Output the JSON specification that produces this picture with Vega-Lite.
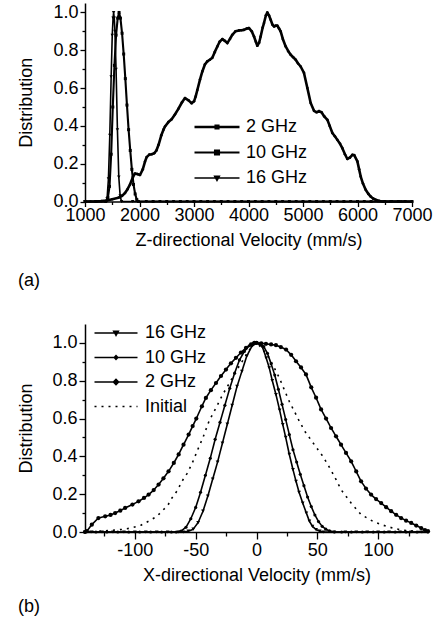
{
"$schema":"https://vega.github.io/schema/vega-lite/v6.json",
"background":"white",
"padding":{"left":17,"top":3,"right":0,"bottom":0},
"spacing":34,
"resolve":{"scale":{"color":"independent","strokeWidth":"independent","strokeDash":"independent"},"legend":{"color":"independent"}},
"config":{
 "view":{"stroke":null},
 "font":"Liberation Sans",
 "axis":{"domainColor":"black","domainWidth":1.5,"tickColor":"black","tickWidth":1.3,"labelColor":"black","titleColor":"black","labelFont":"Liberation Sans","titleFont":"Liberation Sans","labelFontSize":18,"titleFontSize":18,"titleFontWeight":"normal","grid":false,"labelFlush":false,"labelOverlap":false},
 "legend":{"labelFont":"Liberation Sans","labelFontSize":18,"labelColor":"black","padding":0,"labelLimit":300,"title":null},
 "title":{"font":"Liberation Sans","fontSize":18,"fontWeight":"normal","color":"black","orient":"bottom","anchor":"start","frame":"bounds"}
},
"datasets":{
"za":[
{"s":"2 GHz","v":1000,"d":0},{"s":"2 GHz","v":1100,"d":0},{"s":"2 GHz","v":1200,"d":0},{"s":"2 GHz","v":1300,"d":0.002},{"s":"2 GHz","v":1400,"d":0.005},{"s":"2 GHz","v":1500,"d":0.012},{"s":"2 GHz","v":1612,"d":0.02},{"s":"2 GHz","v":1680,"d":0.03},{"s":"2 GHz","v":1734,"d":0.045},{"s":"2 GHz","v":1780,"d":0.065},{"s":"2 GHz","v":1826,"d":0.09},{"s":"2 GHz","v":1880,"d":0.13},{"s":"2 GHz","v":1918,"d":0.148},{"s":"2 GHz","v":1960,"d":0.145},{"s":"2 GHz","v":2009,"d":0.14},{"s":"2 GHz","v":2060,"d":0.17},{"s":"2 GHz","v":2100,"d":0.21},{"s":"2 GHz","v":2132,"d":0.235},{"s":"2 GHz","v":2180,"d":0.248},{"s":"2 GHz","v":2223,"d":0.25},{"s":"2 GHz","v":2270,"d":0.255},{"s":"2 GHz","v":2310,"d":0.27},{"s":"2 GHz","v":2350,"d":0.3},{"s":"2 GHz","v":2400,"d":0.35},{"s":"2 GHz","v":2440,"d":0.38},{"s":"2 GHz","v":2468,"d":0.397},{"s":"2 GHz","v":2530,"d":0.42},{"s":"2 GHz","v":2590,"d":0.435},{"s":"2 GHz","v":2650,"d":0.46},{"s":"2 GHz","v":2713,"d":0.49},{"s":"2 GHz","v":2780,"d":0.525},{"s":"2 GHz","v":2835,"d":0.547},{"s":"2 GHz","v":2900,"d":0.535},{"s":"2 GHz","v":2957,"d":0.52},{"s":"2 GHz","v":3000,"d":0.53},{"s":"2 GHz","v":3030,"d":0.555},{"s":"2 GHz","v":3061,"d":0.59},{"s":"2 GHz","v":3110,"d":0.645},{"s":"2 GHz","v":3153,"d":0.688},{"s":"2 GHz","v":3200,"d":0.725},{"s":"2 GHz","v":3244,"d":0.741},{"s":"2 GHz","v":3290,"d":0.75},{"s":"2 GHz","v":3336,"d":0.76},{"s":"2 GHz","v":3380,"d":0.79},{"s":"2 GHz","v":3428,"d":0.82},{"s":"2 GHz","v":3470,"d":0.845},{"s":"2 GHz","v":3520,"d":0.859},{"s":"2 GHz","v":3565,"d":0.85},{"s":"2 GHz","v":3611,"d":0.838},{"s":"2 GHz","v":3660,"d":0.86},{"s":"2 GHz","v":3703,"d":0.882},{"s":"2 GHz","v":3760,"d":0.9},{"s":"2 GHz","v":3826,"d":0.905},{"s":"2 GHz","v":3870,"d":0.906},{"s":"2 GHz","v":3917,"d":0.908},{"s":"2 GHz","v":3970,"d":0.915},{"s":"2 GHz","v":4009,"d":0.917},{"s":"2 GHz","v":4060,"d":0.9},{"s":"2 GHz","v":4101,"d":0.873},{"s":"2 GHz","v":4135,"d":0.845},{"s":"2 GHz","v":4162,"d":0.824},{"s":"2 GHz","v":4195,"d":0.84},{"s":"2 GHz","v":4223,"d":0.873},{"s":"2 GHz","v":4260,"d":0.92},{"s":"2 GHz","v":4284,"d":0.944},{"s":"2 GHz","v":4320,"d":0.985},{"s":"2 GHz","v":4345,"d":1.0},{"s":"2 GHz","v":4375,"d":0.985},{"s":"2 GHz","v":4407,"d":0.961},{"s":"2 GHz","v":4440,"d":0.935},{"s":"2 GHz","v":4468,"d":0.926},{"s":"2 GHz","v":4500,"d":0.93},{"s":"2 GHz","v":4529,"d":0.93},{"s":"2 GHz","v":4560,"d":0.915},{"s":"2 GHz","v":4590,"d":0.9},{"s":"2 GHz","v":4630,"d":0.86},{"s":"2 GHz","v":4682,"d":0.82},{"s":"2 GHz","v":4730,"d":0.795},{"s":"2 GHz","v":4774,"d":0.776},{"s":"2 GHz","v":4820,"d":0.763},{"s":"2 GHz","v":4866,"d":0.75},{"s":"2 GHz","v":4910,"d":0.73},{"s":"2 GHz","v":4957,"d":0.714},{"s":"2 GHz","v":5018,"d":0.68},{"s":"2 GHz","v":5080,"d":0.6},{"s":"2 GHz","v":5141,"d":0.521},{"s":"2 GHz","v":5202,"d":0.48},{"s":"2 GHz","v":5250,"d":0.472},{"s":"2 GHz","v":5294,"d":0.478},{"s":"2 GHz","v":5340,"d":0.472},{"s":"2 GHz","v":5390,"d":0.45},{"s":"2 GHz","v":5447,"d":0.432},{"s":"2 GHz","v":5490,"d":0.4},{"s":"2 GHz","v":5539,"d":0.362},{"s":"2 GHz","v":5585,"d":0.345},{"s":"2 GHz","v":5630,"d":0.326},{"s":"2 GHz","v":5680,"d":0.305},{"s":"2 GHz","v":5722,"d":0.282},{"s":"2 GHz","v":5770,"d":0.25},{"s":"2 GHz","v":5814,"d":0.225},{"s":"2 GHz","v":5860,"d":0.232},{"s":"2 GHz","v":5906,"d":0.247},{"s":"2 GHz","v":5940,"d":0.245},{"s":"2 GHz","v":5998,"d":0.212},{"s":"2 GHz","v":6030,"d":0.17},{"s":"2 GHz","v":6059,"d":0.132},{"s":"2 GHz","v":6100,"d":0.095},{"s":"2 GHz","v":6150,"d":0.062},{"s":"2 GHz","v":6200,"d":0.04},{"s":"2 GHz","v":6242,"d":0.026},{"s":"2 GHz","v":6290,"d":0.015},{"s":"2 GHz","v":6334,"d":0.009},{"s":"2 GHz","v":6400,"d":0.003},{"s":"2 GHz","v":6456,"d":0},{"s":"2 GHz","v":6600,"d":0},{"s":"2 GHz","v":6800,"d":0},{"s":"2 GHz","v":7000,"d":0},
{"s":"10 GHz","v":1000,"d":0},{"s":"10 GHz","v":1200,"d":0},{"s":"10 GHz","v":1380,"d":0},{"s":"10 GHz","v":1420,"d":0.02},{"s":"10 GHz","v":1450,"d":0.08},{"s":"10 GHz","v":1480,"d":0.25},{"s":"10 GHz","v":1510,"d":0.5},{"s":"10 GHz","v":1540,"d":0.72},{"s":"10 GHz","v":1570,"d":0.88},{"s":"10 GHz","v":1600,"d":0.97},{"s":"10 GHz","v":1625,"d":1.0},{"s":"10 GHz","v":1650,"d":0.97},{"s":"10 GHz","v":1680,"d":0.89},{"s":"10 GHz","v":1710,"d":0.78},{"s":"10 GHz","v":1740,"d":0.65},{"s":"10 GHz","v":1770,"d":0.51},{"s":"10 GHz","v":1800,"d":0.38},{"s":"10 GHz","v":1830,"d":0.27},{"s":"10 GHz","v":1860,"d":0.17},{"s":"10 GHz","v":1890,"d":0.09},{"s":"10 GHz","v":1920,"d":0.04},{"s":"10 GHz","v":1950,"d":0.01},{"s":"10 GHz","v":1980,"d":0},{"s":"10 GHz","v":2250,"d":0},{"s":"10 GHz","v":2500,"d":0},{"s":"10 GHz","v":2750,"d":0},{"s":"10 GHz","v":3000,"d":0},{"s":"10 GHz","v":3250,"d":0},{"s":"10 GHz","v":3500,"d":0},{"s":"10 GHz","v":3750,"d":0},{"s":"10 GHz","v":4000,"d":0},{"s":"10 GHz","v":4250,"d":0},{"s":"10 GHz","v":4500,"d":0},{"s":"10 GHz","v":4750,"d":0},{"s":"10 GHz","v":5000,"d":0},{"s":"10 GHz","v":5250,"d":0},{"s":"10 GHz","v":5500,"d":0},{"s":"10 GHz","v":5750,"d":0},{"s":"10 GHz","v":6000,"d":0},{"s":"10 GHz","v":6250,"d":0},{"s":"10 GHz","v":6500,"d":0},{"s":"10 GHz","v":6750,"d":0},{"s":"10 GHz","v":7000,"d":0},
{"s":"16 GHz","v":1000,"d":0},{"s":"16 GHz","v":1200,"d":0},{"s":"16 GHz","v":1380,"d":0},{"s":"16 GHz","v":1405,"d":0.015},{"s":"16 GHz","v":1430,"d":0.12},{"s":"16 GHz","v":1455,"d":0.35},{"s":"16 GHz","v":1480,"d":0.66},{"s":"16 GHz","v":1500,"d":0.88},{"s":"16 GHz","v":1515,"d":0.97},{"s":"16 GHz","v":1525,"d":1.0},{"s":"16 GHz","v":1537,"d":0.97},{"s":"16 GHz","v":1550,"d":0.9},{"s":"16 GHz","v":1570,"d":0.7},{"s":"16 GHz","v":1595,"d":0.38},{"s":"16 GHz","v":1620,"d":0.13},{"s":"16 GHz","v":1645,"d":0.03},{"s":"16 GHz","v":1670,"d":0},{"s":"16 GHz","v":1875,"d":0},{"s":"16 GHz","v":2125,"d":0},{"s":"16 GHz","v":2375,"d":0},{"s":"16 GHz","v":2625,"d":0},{"s":"16 GHz","v":2875,"d":0},{"s":"16 GHz","v":3125,"d":0},{"s":"16 GHz","v":3375,"d":0},{"s":"16 GHz","v":3625,"d":0},{"s":"16 GHz","v":3875,"d":0},{"s":"16 GHz","v":4125,"d":0},{"s":"16 GHz","v":4375,"d":0},{"s":"16 GHz","v":4625,"d":0},{"s":"16 GHz","v":4875,"d":0},{"s":"16 GHz","v":5125,"d":0},{"s":"16 GHz","v":5375,"d":0},{"s":"16 GHz","v":5625,"d":0},{"s":"16 GHz","v":5875,"d":0},{"s":"16 GHz","v":6125,"d":0},{"s":"16 GHz","v":6375,"d":0},{"s":"16 GHz","v":6625,"d":0},{"s":"16 GHz","v":6875,"d":0}
],
"xb":[
{"s":"2 GHz","v":-141,"d":0},{"s":"2 GHz","v":-139.5,"d":0.004},{"s":"2 GHz","v":-135.4,"d":0.039},{"s":"2 GHz","v":-130,"d":0.074},{"s":"2 GHz","v":-124.4,"d":0.083},{"s":"2 GHz","v":-120,"d":0.09},{"s":"2 GHz","v":-116.2,"d":0.1},{"s":"2 GHz","v":-112,"d":0.113},{"s":"2 GHz","v":-108,"d":0.127},{"s":"2 GHz","v":-102,"d":0.145},{"s":"2 GHz","v":-97,"d":0.162},{"s":"2 GHz","v":-92.5,"d":0.18},{"s":"2 GHz","v":-88.7,"d":0.198},{"s":"2 GHz","v":-84.5,"d":0.222},{"s":"2 GHz","v":-80.5,"d":0.251},{"s":"2 GHz","v":-76.5,"d":0.284},{"s":"2 GHz","v":-72.3,"d":0.321},{"s":"2 GHz","v":-68,"d":0.365},{"s":"2 GHz","v":-64,"d":0.41},{"s":"2 GHz","v":-60,"d":0.462},{"s":"2 GHz","v":-55.8,"d":0.515},{"s":"2 GHz","v":-52.5,"d":0.56},{"s":"2 GHz","v":-49.5,"d":0.6},{"s":"2 GHz","v":-44.9,"d":0.665},{"s":"2 GHz","v":-41.6,"d":0.709},{"s":"2 GHz","v":-37.5,"d":0.75},{"s":"2 GHz","v":-33.3,"d":0.788},{"s":"2 GHz","v":-29.2,"d":0.825},{"s":"2 GHz","v":-25.1,"d":0.859},{"s":"2 GHz","v":-21,"d":0.892},{"s":"2 GHz","v":-16.9,"d":0.921},{"s":"2 GHz","v":-12.8,"d":0.949},{"s":"2 GHz","v":-8.6,"d":0.974},{"s":"2 GHz","v":-4.5,"d":0.992},{"s":"2 GHz","v":-1.8,"d":1.0},{"s":"2 GHz","v":0,"d":1.0},{"s":"2 GHz","v":3.9,"d":0.998},{"s":"2 GHz","v":7.8,"d":0.995},{"s":"2 GHz","v":12,"d":0.992},{"s":"2 GHz","v":16,"d":0.988},{"s":"2 GHz","v":20,"d":0.978},{"s":"2 GHz","v":24.3,"d":0.965},{"s":"2 GHz","v":28.5,"d":0.937},{"s":"2 GHz","v":32.5,"d":0.903},{"s":"2 GHz","v":36.6,"d":0.87},{"s":"2 GHz","v":40.7,"d":0.833},{"s":"2 GHz","v":45,"d":0.765},{"s":"2 GHz","v":49,"d":0.71},{"s":"2 GHz","v":53.1,"d":0.648},{"s":"2 GHz","v":57.2,"d":0.6},{"s":"2 GHz","v":61.3,"d":0.55},{"s":"2 GHz","v":65.4,"d":0.506},{"s":"2 GHz","v":69.5,"d":0.462},{"s":"2 GHz","v":73.6,"d":0.418},{"s":"2 GHz","v":77.8,"d":0.374},{"s":"2 GHz","v":82,"d":0.32},{"s":"2 GHz","v":86,"d":0.268},{"s":"2 GHz","v":90,"d":0.23},{"s":"2 GHz","v":94.2,"d":0.198},{"s":"2 GHz","v":98.3,"d":0.174},{"s":"2 GHz","v":102.5,"d":0.153},{"s":"2 GHz","v":106.6,"d":0.131},{"s":"2 GHz","v":110.7,"d":0.11},{"s":"2 GHz","v":114.8,"d":0.091},{"s":"2 GHz","v":118.9,"d":0.074},{"s":"2 GHz","v":123,"d":0.06},{"s":"2 GHz","v":127.2,"d":0.048},{"s":"2 GHz","v":131.3,"d":0.034},{"s":"2 GHz","v":135.4,"d":0.021},{"s":"2 GHz","v":138.5,"d":0.01},{"s":"2 GHz","v":141,"d":0.004},
{"s":"Initial","v":-141,"d":0},{"s":"Initial","v":-130,"d":0.004},{"s":"Initial","v":-120,"d":0.008},{"s":"Initial","v":-110,"d":0.014},{"s":"Initial","v":-102.5,"d":0.022},{"s":"Initial","v":-95,"d":0.036},{"s":"Initial","v":-88.7,"d":0.057},{"s":"Initial","v":-82,"d":0.082},{"s":"Initial","v":-77.8,"d":0.11},{"s":"Initial","v":-73,"d":0.14},{"s":"Initial","v":-69.5,"d":0.18},{"s":"Initial","v":-65,"d":0.22},{"s":"Initial","v":-61.3,"d":0.268},{"s":"Initial","v":-57,"d":0.31},{"s":"Initial","v":-53.1,"d":0.36},{"s":"Initial","v":-48,"d":0.44},{"s":"Initial","v":-44,"d":0.5},{"s":"Initial","v":-38.8,"d":0.59},{"s":"Initial","v":-33,"d":0.66},{"s":"Initial","v":-27.8,"d":0.727},{"s":"Initial","v":-22,"d":0.79},{"s":"Initial","v":-16.9,"d":0.85},{"s":"Initial","v":-11,"d":0.91},{"s":"Initial","v":-5.9,"d":0.962},{"s":"Initial","v":-2,"d":0.995},{"s":"Initial","v":0,"d":1.0},{"s":"Initial","v":4,"d":0.975},{"s":"Initial","v":10.5,"d":0.921},{"s":"Initial","v":14.5,"d":0.87},{"s":"Initial","v":18.8,"d":0.815},{"s":"Initial","v":23,"d":0.75},{"s":"Initial","v":27,"d":0.69},{"s":"Initial","v":31,"d":0.64},{"s":"Initial","v":35.2,"d":0.586},{"s":"Initial","v":40,"d":0.53},{"s":"Initial","v":45,"d":0.485},{"s":"Initial","v":50,"d":0.44},{"s":"Initial","v":54,"d":0.405},{"s":"Initial","v":58.6,"d":0.357},{"s":"Initial","v":64,"d":0.295},{"s":"Initial","v":69.5,"d":0.224},{"s":"Initial","v":77.8,"d":0.153},{"s":"Initial","v":86,"d":0.092},{"s":"Initial","v":95.6,"d":0.057},{"s":"Initial","v":102.5,"d":0.039},{"s":"Initial","v":112,"d":0.021},{"s":"Initial","v":120,"d":0.01},{"s":"Initial","v":130,"d":0.004},{"s":"Initial","v":141,"d":0},
{"s":"10 GHz","v":-141,"d":0},{"s":"10 GHz","v":-132,"d":0},{"s":"10 GHz","v":-123,"d":0},{"s":"10 GHz","v":-114,"d":0},{"s":"10 GHz","v":-105,"d":0},{"s":"10 GHz","v":-96,"d":0},{"s":"10 GHz","v":-87,"d":0},{"s":"10 GHz","v":-78,"d":0},{"s":"10 GHz","v":-70,"d":0},{"s":"10 GHz","v":-66,"d":0},{"s":"10 GHz","v":-62,"d":0.005},{"s":"10 GHz","v":-58,"d":0.025},{"s":"10 GHz","v":-54,"d":0.07},{"s":"10 GHz","v":-50,"d":0.13},{"s":"10 GHz","v":-46,"d":0.21},{"s":"10 GHz","v":-42,"d":0.3},{"s":"10 GHz","v":-38,"d":0.39},{"s":"10 GHz","v":-34,"d":0.49},{"s":"10 GHz","v":-30,"d":0.58},{"s":"10 GHz","v":-26,"d":0.67},{"s":"10 GHz","v":-22,"d":0.76},{"s":"10 GHz","v":-18,"d":0.84},{"s":"10 GHz","v":-14,"d":0.91},{"s":"10 GHz","v":-10,"d":0.955},{"s":"10 GHz","v":-6,"d":0.985},{"s":"10 GHz","v":-3,"d":0.997},{"s":"10 GHz","v":0,"d":1.0},{"s":"10 GHz","v":3,"d":0.995},{"s":"10 GHz","v":6,"d":0.98},{"s":"10 GHz","v":9,"d":0.945},{"s":"10 GHz","v":12,"d":0.89},{"s":"10 GHz","v":15,"d":0.83},{"s":"10 GHz","v":18,"d":0.755},{"s":"10 GHz","v":21,"d":0.675},{"s":"10 GHz","v":24,"d":0.595},{"s":"10 GHz","v":27,"d":0.515},{"s":"10 GHz","v":30,"d":0.435},{"s":"10 GHz","v":33,"d":0.37},{"s":"10 GHz","v":36,"d":0.305},{"s":"10 GHz","v":39,"d":0.245},{"s":"10 GHz","v":42,"d":0.185},{"s":"10 GHz","v":45,"d":0.135},{"s":"10 GHz","v":48,"d":0.09},{"s":"10 GHz","v":51,"d":0.055},{"s":"10 GHz","v":54,"d":0.03},{"s":"10 GHz","v":57,"d":0.015},{"s":"10 GHz","v":60,"d":0.006},{"s":"10 GHz","v":64,"d":0},{"s":"10 GHz","v":70,"d":0},{"s":"10 GHz","v":78,"d":0},{"s":"10 GHz","v":87,"d":0},{"s":"10 GHz","v":96,"d":0},{"s":"10 GHz","v":105,"d":0},{"s":"10 GHz","v":114,"d":0},{"s":"10 GHz","v":123,"d":0},{"s":"10 GHz","v":132,"d":0},{"s":"10 GHz","v":141,"d":0},
{"s":"16 GHz","v":-141,"d":0},{"s":"16 GHz","v":-136,"d":0},{"s":"16 GHz","v":-127,"d":0},{"s":"16 GHz","v":-118,"d":0},{"s":"16 GHz","v":-109,"d":0},{"s":"16 GHz","v":-100,"d":0},{"s":"16 GHz","v":-91,"d":0},{"s":"16 GHz","v":-82,"d":0},{"s":"16 GHz","v":-73,"d":0},{"s":"16 GHz","v":-64,"d":0},{"s":"16 GHz","v":-60,"d":0},{"s":"16 GHz","v":-56,"d":0.004},{"s":"16 GHz","v":-52,"d":0.015},{"s":"16 GHz","v":-48,"d":0.05},{"s":"16 GHz","v":-44,"d":0.11},{"s":"16 GHz","v":-40,"d":0.19},{"s":"16 GHz","v":-36,"d":0.28},{"s":"16 GHz","v":-32,"d":0.37},{"s":"16 GHz","v":-28,"d":0.47},{"s":"16 GHz","v":-24,"d":0.57},{"s":"16 GHz","v":-20,"d":0.67},{"s":"16 GHz","v":-16,"d":0.77},{"s":"16 GHz","v":-12,"d":0.85},{"s":"16 GHz","v":-8,"d":0.93},{"s":"16 GHz","v":-4,"d":0.98},{"s":"16 GHz","v":0,"d":1.0},{"s":"16 GHz","v":3,"d":0.99},{"s":"16 GHz","v":5.1,"d":0.975},{"s":"16 GHz","v":8,"d":0.92},{"s":"16 GHz","v":10.5,"d":0.868},{"s":"16 GHz","v":13,"d":0.8},{"s":"16 GHz","v":16,"d":0.727},{"s":"16 GHz","v":19,"d":0.645},{"s":"16 GHz","v":21.6,"d":0.568},{"s":"16 GHz","v":24,"d":0.5},{"s":"16 GHz","v":27,"d":0.41},{"s":"16 GHz","v":30,"d":0.33},{"s":"16 GHz","v":32.5,"d":0.268},{"s":"16 GHz","v":35,"d":0.21},{"s":"16 GHz","v":38,"d":0.153},{"s":"16 GHz","v":41,"d":0.1},{"s":"16 GHz","v":43.5,"d":0.057},{"s":"16 GHz","v":46,"d":0.03},{"s":"16 GHz","v":49,"d":0.013},{"s":"16 GHz","v":52,"d":0.004},{"s":"16 GHz","v":55,"d":0},{"s":"16 GHz","v":64,"d":0},{"s":"16 GHz","v":73,"d":0},{"s":"16 GHz","v":82,"d":0},{"s":"16 GHz","v":91,"d":0},{"s":"16 GHz","v":100,"d":0},{"s":"16 GHz","v":109,"d":0},{"s":"16 GHz","v":118,"d":0},{"s":"16 GHz","v":127,"d":0},{"s":"16 GHz","v":136,"d":0}
]
},
"vconcat":[
{
 "width":327,"height":198.5,
 "data":{"name":"za"},
 "title":{"text":"(a)","offset":22},
 "encoding":{
  "x":{"field":"v","type":"quantitative","scale":{"domain":[1000,7000],"nice":false,"zero":false},
   "axis":{"title":"Z-directional Velocity (mm/s)","values":[1000,1500,2000,2500,3000,3500,4000,4500,5000,5500,6000,6500,7000],"labelExpr":"datum.value % 1000 === 0 ? '' + datum.value : ''","tickSize":5,"labelPadding":0,"titlePadding":7,
    "tickDash":{"condition":{"test":"datum.value % 1000 !== 0","value":[3,20]},"value":[10,0]}}},
  "y":{"field":"d","type":"quantitative","scale":{"domain":[0,1.05],"nice":false},
   "axis":{"title":"Distribution","values":[0,0.1,0.2,0.3,0.4,0.5,0.6,0.7,0.8,0.9,1.0],"labelExpr":"round(datum.value*10) % 2 === 0 ? format(datum.value, '.1f') : ''","tickSize":5,"labelPadding":2,"titlePadding":17,
    "tickDash":{"condition":{"test":"round(datum.value*10) % 2 === 1","value":[3,20]},"value":[10,0]}}}
 },
 "layer":[
  {"mark":{"type":"line","strokeJoin":"round"},
   "encoding":{
    "color":{"field":"s","type":"nominal","scale":{"domain":["2 GHz","10 GHz","16 GHz"],"range":["black","black","black"]},
     "legend":{"orient":"none","legendX":106,"legendY":115,"symbolSize":100,"symbolOffset":17,"labelOffset":20,"rowPadding":7.5,
      "encode":{"symbols":{"update":{
       "shape":{"signal":"datum.label === '2 GHz' ? 'M-4.5,0L4.5,0M-0.25,-0.25L0.25,-0.25L0.25,0.25L-0.25,0.25Z' : datum.label === '10 GHz' ? 'M-4.5,0L4.5,0M-0.4,-0.4L0.4,-0.4L0.4,0.4L-0.4,0.4Z' : 'M-4.5,0L4.5,0M-0.45,-0.35L0.45,-0.35L0,0.45Z'"},
       "fill":{"value":"black"},"stroke":{"value":"black"},"strokeWidth":{"value":1.4},"opacity":{"value":1}}}}}},
    "strokeWidth":{"field":"s","type":"nominal","scale":{"domain":["2 GHz","10 GHz","16 GHz"],"range":[2.6,1.6,1.6]},"legend":null}
   }},
  {"mark":{"type":"point","filled":true,"opacity":1,"color":"black"},
   "encoding":{
    "shape":{"condition":[{"test":"datum.s === '2 GHz'","value":"circle"},{"test":"datum.s === '10 GHz'","value":"square"}],"value":"triangle-down"},
    "size":{"condition":[{"test":"datum.s === '2 GHz'","value":7},{"test":"datum.s === '10 GHz'","value":9}],"value":12}
   }}
 ]
},
{
 "width":343,"height":208,
 "data":{"name":"xb"},
 "title":{"text":"(b)","offset":14},
 "encoding":{
  "x":{"field":"v","type":"quantitative","scale":{"domain":[-141,141],"nice":false,"zero":false},
   "axis":{"title":"X-directional Velocity (mm/s)","values":[-125,-100,-75,-50,-25,0,25,50,75,100,125],"labelExpr":"datum.value % 50 === 0 ? '' + datum.value : ''","tickSize":7,"labelPadding":2,"titlePadding":7,
    "tickDash":{"condition":{"test":"datum.value % 50 !== 0","value":[4,20]},"value":[10,0]}}},
  "y":{"field":"d","type":"quantitative","scale":{"domain":[0,1.1],"nice":false},
   "axis":{"title":"Distribution","values":[0,0.1,0.2,0.3,0.4,0.5,0.6,0.7,0.8,0.9,1.0],"labelExpr":"round(datum.value*10) % 2 === 0 ? format(datum.value, '.1f') : ''","tickSize":6,"labelPadding":2,"titlePadding":16,
    "tickDash":{"condition":{"test":"round(datum.value*10) % 2 === 1","value":[3,20]},"value":[10,0]}}}
 },
 "layer":[
  {"mark":{"type":"line","strokeJoin":"round"},
   "encoding":{
    "color":{"field":"s","type":"nominal","scale":{"domain":["16 GHz","10 GHz","2 GHz","Initial"],"range":["black","black","black","black"]},
     "legend":{"orient":"none","legendX":6,"legendY":0,"symbolSize":100,"symbolOffset":16,"labelOffset":20,"rowPadding":6.5,
      "encode":{"symbols":{"update":{
       "shape":{"signal":"datum.label === '16 GHz' ? 'M-4.3,0L4.3,0M-0.45,-0.35L0.45,-0.35L0,0.45Z' : datum.label === '10 GHz' ? 'M-4.3,0L4.3,0M-0.35,0L0,-0.35L0.35,0L0,0.35Z' : datum.label === '2 GHz' ? 'M-4.3,0L4.3,0M-0.5,0L0,-0.5L0.5,0L0,0.5Z' : 'M-4.3,0L4.3,0'"},
       "strokeDash":{"signal":"datum.label === 'Initial' ? [2,5] : [10,0]"},
       "fill":{"value":"black"},"stroke":{"value":"black"},"strokeWidth":{"value":1.8},"opacity":{"value":1}}}}}},
    "strokeWidth":{"field":"s","type":"nominal","scale":{"domain":["16 GHz","10 GHz","2 GHz","Initial"],"range":[1.6,1.6,2.0,1.8]},"legend":null},
    "strokeDash":{"field":"s","type":"nominal","scale":{"domain":["16 GHz","10 GHz","2 GHz","Initial"],"range":[[10,0],[10,0],[10,0],[2,5]]},"legend":null}
   }},
  {"transform":[{"filter":"datum.s !== 'Initial'"}],
   "mark":{"type":"point","filled":true,"opacity":1,"color":"black"},
   "encoding":{
    "shape":{"condition":[{"test":"datum.s === '16 GHz'","value":"triangle-down"}],"value":"circle"},
    "size":{"condition":[{"test":"datum.s === '16 GHz'","value":14},{"test":"datum.s === '10 GHz'","value":10}],"value":18}
   }}
 ]
}
]
}
